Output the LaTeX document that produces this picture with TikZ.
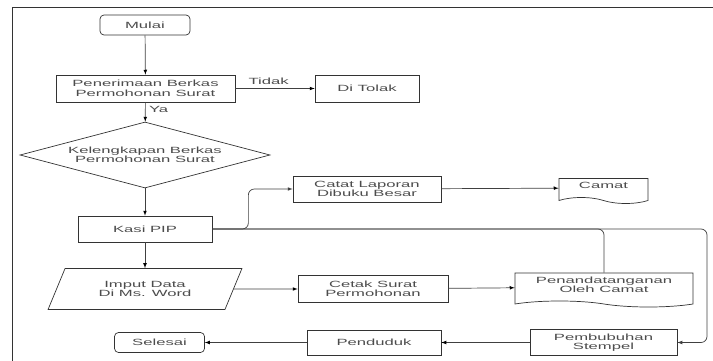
\documentclass[tikz,border=0pt]{standalone}
\usepackage{fontspec}
\setmainfont[FakeStretch=1.85]{Liberation Sans}
\usepackage{tikz}
\usetikzlibrary{arrows, shapes, shapes.geometric, shapes.symbols}

\begin{document}
\begin{tikzpicture}[
    x=1pt, y=-1pt,
    every node/.style={font=\fontsize{9}{9.5}\selectfont, text=black!70, align=center},
    fcterm/.style={shape=rectangle, rounded corners=4pt, draw=black!80, line width=0.7pt, minimum width=90pt, minimum height=20pt, inner sep=0pt},
    fcproc/.style={shape=rectangle, draw=black!80, line width=0.7pt, minimum height=26pt, inner sep=0pt},
    fcdec/.style={shape=diamond, draw=black!80, line width=0.7pt, minimum width=250pt, minimum height=66pt, inner sep=0pt, shape aspect=3.8},
    fcio/.style={shape=trapezium, trapezium left angle=58, trapezium right angle=122, trapezium stretches=true, draw=black!80, line width=0.7pt, minimum width=194pt, minimum height=41pt, inner sep=0pt},
    fcdoc/.style={shape=tape, tape bend top=none, tape bend bottom=out and in, tape bend height=6pt, draw=black!80, line width=0.7pt, inner sep=0pt, text depth=5pt},
    fcline/.style={draw=black!75, line width=0.7pt, -latex},
]
\useasboundingbox (0,0) rectangle (713,361);
\draw[draw=black!80, line width=1pt] (12,361) -- (12,8) -- (713,8);

\node[fcterm] (mulai) at (145, 25) {Mulai};
\node[fcproc, minimum width=179pt, minimum height=27pt] (terima) at (145.5, 88.5) {Penerimaan Berkas\\Permohonan Surat};
\node[fcproc, minimum width=104pt, minimum height=27pt] (tolak) at (367, 88.5) {Di Tolak};
\node[fcdec] (lengkap) at (145, 155) {Kelengkapan Berkas\\Permohonan Surat};
\node[fcproc, minimum width=134pt] (kasi) at (145, 229) {Kasi PIP};
\node[fcproc, minimum width=148pt] (catat) at (367, 189) {Catat Laporan\\Dibuku Besar};
\node[fcdoc, minimum width=89pt, minimum height=25pt] (camat) at (603.5, 188) {Camat};
\node[fcio] (imput) at (145, 289) {Imput Data\\Di Ms. Word};
\node[fcproc, minimum width=150pt, minimum height=27pt] (cetak) at (373, 289) {Cetak Surat\\Permohonan};
\node[fcdoc, minimum width=178pt, minimum height=34pt] (tanda) at (604, 287) {Penandatanganan\\Oleh Camat};
\node[fcproc, minimum width=147pt, minimum height=26pt] (stempel) at (603.5, 342.5) {Pembubuhan\\Stempel};
\node[fcproc, minimum width=134pt, minimum height=25pt] (penduduk) at (374, 342.5) {Penduduk};
\node[fcterm] (selesai) at (159.5, 342.5) {Selesai};
\coordinate (tepi) at (707, 229);

\path[fcline]
    (mulai) edge (terima)
    (terima) edge node[right, pos=0.35] {Ya} (lengkap)
    (terima) edge node[above, pos=0.42] {Tidak} (tolak)
    (lengkap) edge (kasi)
    (kasi) edge (imput)
    (catat) edge (camat)
    (imput) edge (cetak)
    (cetak) edge (tanda)
    (stempel) edge (penduduk)
    (penduduk) edge (selesai)
;
\draw[fcline, rounded corners=6pt] (kasi.east) -- ++(36,0) |- (catat.west);
\draw[fcline, rounded corners=6pt] (kasi.east) -- (tepi) |- (stempel.east);
\draw[fcline, -, rounded corners=6pt] (tanda.north) |- (kasi.east);
\end{tikzpicture}
\end{document}
